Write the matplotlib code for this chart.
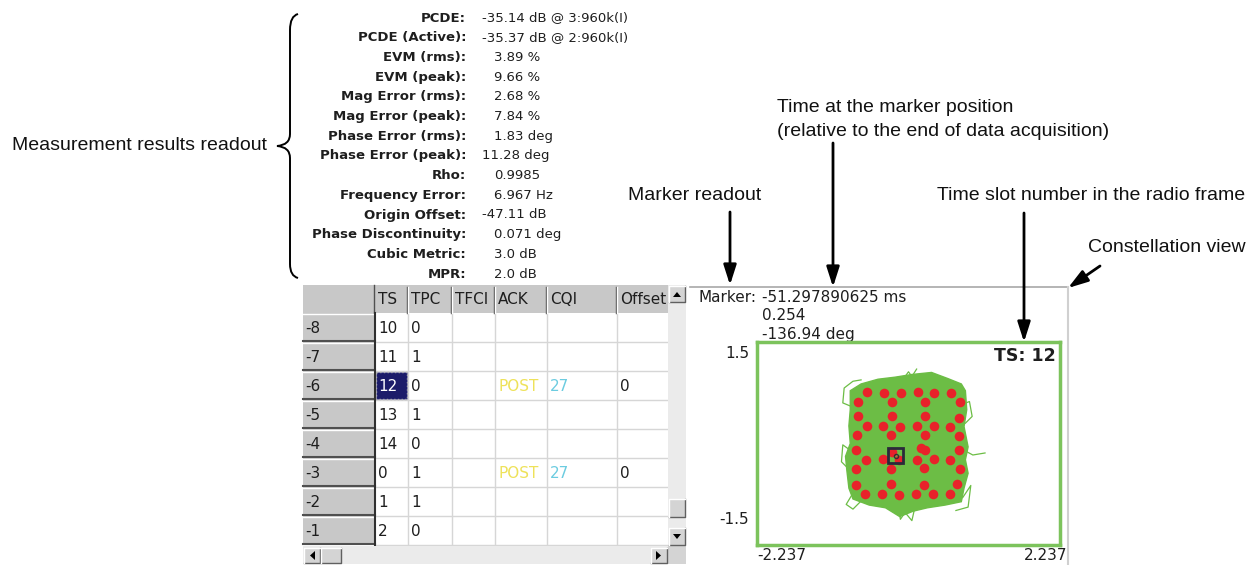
import matplotlib.pyplot as plt
from matplotlib.patches import Rectangle, PathPatch, Polygon
from matplotlib.path import Path

plt.rcParams['font.family'] = ['DejaVu Sans']

# measurement results readout
readout_labels = ['PCDE:', 'PCDE (Active):', 'EVM (rms):', 'EVM (peak):',
                  'Mag Error (rms):', 'Mag Error (peak):', 'Phase Error (rms):',
                  'Phase Error (peak):', 'Rho:', 'Frequency Error:', 'Origin Offset:',
                  'Phase Discontinuity:', 'Cubic Metric:', 'MPR:']
readout_values = ['-35.14 dB @ 3:960k(I)', '-35.37 dB @ 2:960k(I)', '3.89 %', '9.66 %',
                  '2.68 %', '7.84 %', '1.83 deg', '11.28 deg', '0.9985', '6.967 Hz',
                  '-47.11 dB', '0.071 deg', '3.0 dB', '2.0 dB']

# symbol table
table_columns = ['TS', 'TPC', 'TFCI', 'ACK', 'CQI', 'Offset']
row_labels = ['-8', '-7', '-6', '-5', '-4', '-3', '-2', '-1']
ts_col = ['10', '11', '12', '13', '14', '0', '1', '2']
tpc_col = ['0', '1', '0', '1', '0', '1', '1', '0']
tfci_col = ['', '', '', '', '', '', '', '']
ack_col = ['', '', 'POST', '', '', 'POST', '', '']
cqi_col = ['', '', '27', '', '', '27', '', '']
offset_col = ['', '', '0', '', '', '0', '', '']
selected_row = 2

# marker readout
marker_time = '-51.297890625 ms'
marker_mag = '0.254'
marker_phase = '-136.94 deg'
marker_i, marker_q = -0.19, -0.18
time_slot = 12
i_max = 2.237
q_max = 1.5

# constellation: symbol points (I, Q)
dot_i = [-0.62, -0.36, -0.11, 0.145, 0.38, 0.63,
         -0.74, -0.25, 0.25, 0.76,
         -0.75, -0.25, 0.24, 0.75,
         -0.62, -0.37, -0.13, 0.13, 0.38, 0.62,
         -0.76, -0.26, 0.24, 0.75,
         -0.77, -0.25, 0.19, 0.25, 0.74,
         -0.63, -0.38, -0.14, 0.12, 0.37, 0.62,
         -0.77, -0.26, 0.23, 0.76,
         -0.78, -0.26, 0.23, 0.72,
         -0.64, -0.39, -0.14, 0.11, 0.36, 0.61]
dot_q = [0.76, 0.75, 0.74, 0.76, 0.75, 0.74,
         0.61, 0.62, 0.61, 0.62,
         0.40, 0.40, 0.41, 0.37,
         0.26, 0.26, 0.25, 0.26, 0.26, 0.24,
         0.12, 0.12, 0.12, 0.11,
         -0.09, -0.12, -0.07, -0.10, -0.10,
         -0.24, -0.23, -0.24, -0.24, -0.23, -0.24,
         -0.37, -0.38, -0.36, -0.37,
         -0.61, -0.60, -0.61, -0.60,
         -0.74, -0.75, -0.76, -0.75, -0.74, -0.75]

# outline of the dense trajectory region
blob_i = [-0.86, -0.70, -0.45, -0.20, 0.05, 0.34, 0.58, 0.78, 0.84, 0.86, 0.82, 0.88,
          0.84, 0.88, 0.82, 0.78, 0.54, 0.28, 0.07, -0.13, -0.34, -0.58, -0.82, -0.88,
          -0.91, -0.93, -0.86, -0.88, -0.86]
blob_q = [0.78, 0.88, 0.95, 0.98, 1.02, 1.05, 0.96, 0.88, 0.78, 0.50, 0.25, -0.05,
          -0.24, -0.44, -0.66, -0.86, -0.91, -0.95, -1.00, -1.08, -0.95, -0.91, -0.82, -0.66,
          -0.40, -0.19, 0.0, 0.26, 0.50]

# loose trajectory strands outside the dense region
strands_i = [[-0.85, -0.97, -0.95, -0.82, -0.70],
             [0.82, 0.95, 1.13],
             [0.60, 0.80, 0.92, 0.88, 0.70],
             [-0.15, -0.12, -0.05, 0.05, 0.10],
             [-0.86, -0.97, -0.99, -0.88],
             [-0.10, 0.00, 0.05, 0.12],
             [0.72, 0.90, 0.94, 0.84],
             [-0.70, -0.82, -0.92, -0.80]]
strands_q = [[0.55, 0.60, 0.82, 0.92, 0.94],
             [-0.10, -0.17, -0.14],
             [-0.82, -0.80, -0.62, -0.94, -0.99],
             [-0.88, -1.12, -1.02, -1.14, -0.92],
             [-0.10, -0.02, -0.27, -0.38],
             [0.92, 1.06, 0.99, 1.10],
             [0.55, 0.62, 0.40, 0.30],
             [-0.85, -0.97, -0.90, -0.70]]

green = '#6cbd45'
frame_green = '#7cc35c'
dot_red = '#e8222a'
grey = '#c8c8c8'
ann_font = ['Liberation Sans', 'DejaVu Sans']

fig = plt.figure(figsize=(12.48, 5.65), dpi=100)
bg = fig.add_axes([0, 0, 1, 1])
bg.set_xlim(0, 1248)
bg.set_ylim(565, 0)
bg.axis('off')

# --- readout block ---
for k, (lab, val) in enumerate(zip(readout_labels, readout_values)):
    y = 18 + k * 19.7
    bg.text(466, y, lab, ha='right', va='center', fontsize=9.5,
            fontweight='bold', color='#1e1e1e')
    wide = val.startswith('-') or len(val.split('.')[0]) > 1
    bg.text(482 if wide else 494, y, val, ha='left', va='center',
            fontsize=9.5, color='#1e1e1e')

# curly brace
brace = Path([(298, 14), (290, 16), (290, 30), (290, 134), (290, 145), (277, 146),
              (290, 147), (290, 158), (290, 264), (290, 276), (298, 278)],
             [Path.MOVETO, Path.CURVE3, Path.CURVE3, Path.LINETO, Path.CURVE3, Path.CURVE3,
              Path.CURVE3, Path.CURVE3, Path.LINETO, Path.CURVE3, Path.CURVE3])
bg.add_patch(PathPatch(brace, fill=False, lw=1.4, edgecolor='black'))

# --- annotations ---
ann_kw = dict(fontsize=14, family=ann_font, color='#111111', va='center')
bg.text(267, 146, 'Measurement results readout', ha='right', **ann_kw)
bg.text(777, 107, 'Time at the marker position', ha='left', **ann_kw)
bg.text(777, 131, '(relative to the end of data acquisition)', ha='left', **ann_kw)
bg.text(628, 196, 'Marker readout', ha='left', **ann_kw)
bg.text(937, 196, 'Time slot number in the radio frame', ha='left', **ann_kw)
bg.text(1088, 248, 'Constellation view', ha='left', **ann_kw)

arrow_kw = dict(arrowstyle='-|>,head_length=1.0,head_width=0.32', lw=2,
                color='black', shrinkA=0, shrinkB=0, mutation_scale=12)
for (x0, y0), (x1, y1) in [((730, 212), (730, 285)), ((833, 143), (833, 287)),
                           ((1024, 213), (1024, 342)), ((1100, 266), (1068, 288))]:
    bg.annotate('', xy=(x1, y1), xytext=(x0, y0), arrowprops=arrow_kw)

# --- table ---
tbl_left, hdr_right = 303, 375
col_edges = [375, 408, 452, 495, 547, 617, 668]
hdr_top, hdr_bot, row_h = 285, 313, 29
tbl_bot = hdr_bot + row_h * len(row_labels)

bg.add_patch(Rectangle((tbl_left, hdr_top), 668 - tbl_left, tbl_bot - hdr_top,
                       facecolor='white', edgecolor='none', zorder=1))
bg.add_patch(Rectangle((tbl_left, hdr_top), 668 - tbl_left, hdr_bot - hdr_top,
                       facecolor=grey, edgecolor='none', zorder=1))
for x in col_edges[1:-1]:
    bg.plot([x, x], [hdr_bot, tbl_bot], color='#d6d6d6', lw=1, zorder=2)
    bg.plot([x - 1, x - 1], [hdr_top + 2, hdr_bot], color='#505050', lw=1, zorder=2)
    bg.plot([x, x], [hdr_top + 2, hdr_bot], color='white', lw=1, zorder=2)
bg.plot([hdr_right - 1, hdr_right - 1], [hdr_top, hdr_bot], color='#505050', lw=1, zorder=2)
for j, name in enumerate(table_columns):
    bg.text(col_edges[j] + 3, (hdr_top + hdr_bot) / 2 + 1, name, ha='left', va='center',
            fontsize=11, color='#1e1e1e', zorder=3)

columns = [ts_col, tpc_col, tfci_col, ack_col, cqi_col, offset_col]
col_colors = ['#1e1e1e', '#1e1e1e', '#1e1e1e', '#eee25a', '#6ccce0', '#1e1e1e']
for r, lab in enumerate(row_labels):
    top = hdr_bot + r * row_h
    bot = top + row_h
    bg.add_patch(Rectangle((tbl_left, top), hdr_right - tbl_left, row_h,
                           facecolor=grey, edgecolor='none', zorder=1))
    bg.plot([tbl_left, hdr_right], [top + 1, top + 1], color='white', lw=1, zorder=2)
    bg.plot([tbl_left, hdr_right], [bot - 1, bot - 1], color='#505050', lw=1.5, zorder=2)
    bg.plot([hdr_right, 668], [bot, bot], color='#d6d6d6', lw=1, zorder=2)
    bg.text(tbl_left + 2, top + row_h / 2 + 1, lab, ha='left', va='center',
            fontsize=11, color='#1e1e1e', zorder=3)
    if r == selected_row:
        bg.add_patch(Rectangle((col_edges[0] + 1, top + 1), col_edges[1] - col_edges[0] - 2,
                               row_h - 2, facecolor='#1c1c6a', edgecolor='#b0b0b0',
                               lw=1, ls=':', zorder=2))
    for j, col in enumerate(columns):
        if col[r]:
            c = 'white' if (r == selected_row and j == 0) else col_colors[j]
            bg.text(col_edges[j] + 3, top + row_h / 2 + 1, col[r], ha='left', va='center',
                    fontsize=11, color=c, zorder=3)
bg.plot([hdr_right, hdr_right], [hdr_bot, tbl_bot], color='#303030', lw=1.5, zorder=2)


def button(x, y, w, h, tri=None):
    bg.add_patch(Rectangle((x, y), w, h, facecolor='#d4d4d4', edgecolor='none', zorder=5))
    bg.plot([x, x + w, x + w], [y + h, y + h, y], color='#606060', lw=1, zorder=6)
    bg.plot([x, x, x + w], [y + h, y, y], color='white', lw=1, zorder=6)
    if tri is not None:
        bg.add_patch(Polygon(tri, closed=True, facecolor='black', edgecolor='none', zorder=7))


# vertical scrollbar
bg.add_patch(Rectangle((668, hdr_top), 18, tbl_bot - hdr_top, facecolor='#ebebeb',
                       edgecolor='none', hatch='....', zorder=4))
button(669, 286, 16, 16, [(673, 297), (681, 297), (677, 292)])
button(669, 499, 16, 18)
button(669, 528, 16, 17, [(673, 534), (681, 534), (677, 539)])
# horizontal scrollbar
bg.add_patch(Rectangle((tbl_left, tbl_bot + 1), 365, 18, facecolor='#ebebeb',
                       edgecolor='none', hatch='....', zorder=4))
button(304, 548, 16, 15, [(315, 551), (315, 560), (310, 555.5)])
button(321, 548, 20, 15)
button(651, 548, 16, 15, [(656, 551), (656, 560), (661, 555.5)])
bg.add_patch(Rectangle((668, tbl_bot + 1), 18, 18, facecolor='#d4d4d4',
                       edgecolor='none', zorder=4))

# --- constellation panel ---
bg.plot([690, 1068], [287, 287], color='#a8a8a8', lw=1.2)
bg.plot([1068, 1068], [287, 565], color='#d0d0d0', lw=1.5)
bg.text(699, 297, 'Marker:', ha='left', va='center', fontsize=11, color='#1e1e1e')
bg.text(762, 297, marker_time, ha='left', va='center', fontsize=11, color='#1e1e1e')
bg.text(762, 316, marker_mag, ha='left', va='center', fontsize=11, color='#1e1e1e')
bg.text(762, 334, marker_phase, ha='left', va='center', fontsize=11, color='#1e1e1e')
bg.text(749, 353, f'{q_max}', ha='right', va='center', fontsize=11, color='#1e1e1e')
bg.text(749, 520, f'{-q_max}', ha='right', va='center', fontsize=11, color='#1e1e1e')
bg.text(757, 556, f'{-i_max}', ha='left', va='center', fontsize=11, color='#1e1e1e')
bg.text(1067, 556, f'{i_max}', ha='right', va='center', fontsize=11, color='#1e1e1e')

cax = fig.add_axes([757 / 1248, 1 - 545 / 565, 303 / 1248, 203 / 565])
cax.set_xlim(-i_max, i_max)
cax.set_ylim(-q_max, q_max)
cax.set_xticks([])
cax.set_yticks([])
for s in cax.spines.values():
    s.set_color(frame_green)
    s.set_linewidth(2.5)

cax.fill(blob_i, blob_q, facecolor=green, edgecolor=green, lw=1)
for si, sq in zip(strands_i, strands_q):
    cax.plot(si, sq, color=green, lw=0.9)
cax.scatter(dot_i, dot_q, s=48, marker='o', color=dot_red, linewidths=0, zorder=3)
cax.add_patch(Rectangle((marker_i - 0.11, marker_q - 0.11), 0.22, 0.22, fill=False,
                        edgecolor='#2a2a3a', lw=2, zorder=4))
cax.plot(marker_i, marker_q, 'o', ms=3, mfc='none', mec='#333333', zorder=5)
cax.text(0.985, 0.93, f'TS: {time_slot}', transform=cax.transAxes, ha='right', va='center',
         fontsize=12.5, fontweight='semibold', color='#1e1e1e')

fig.savefig('out.png', dpi=100)
